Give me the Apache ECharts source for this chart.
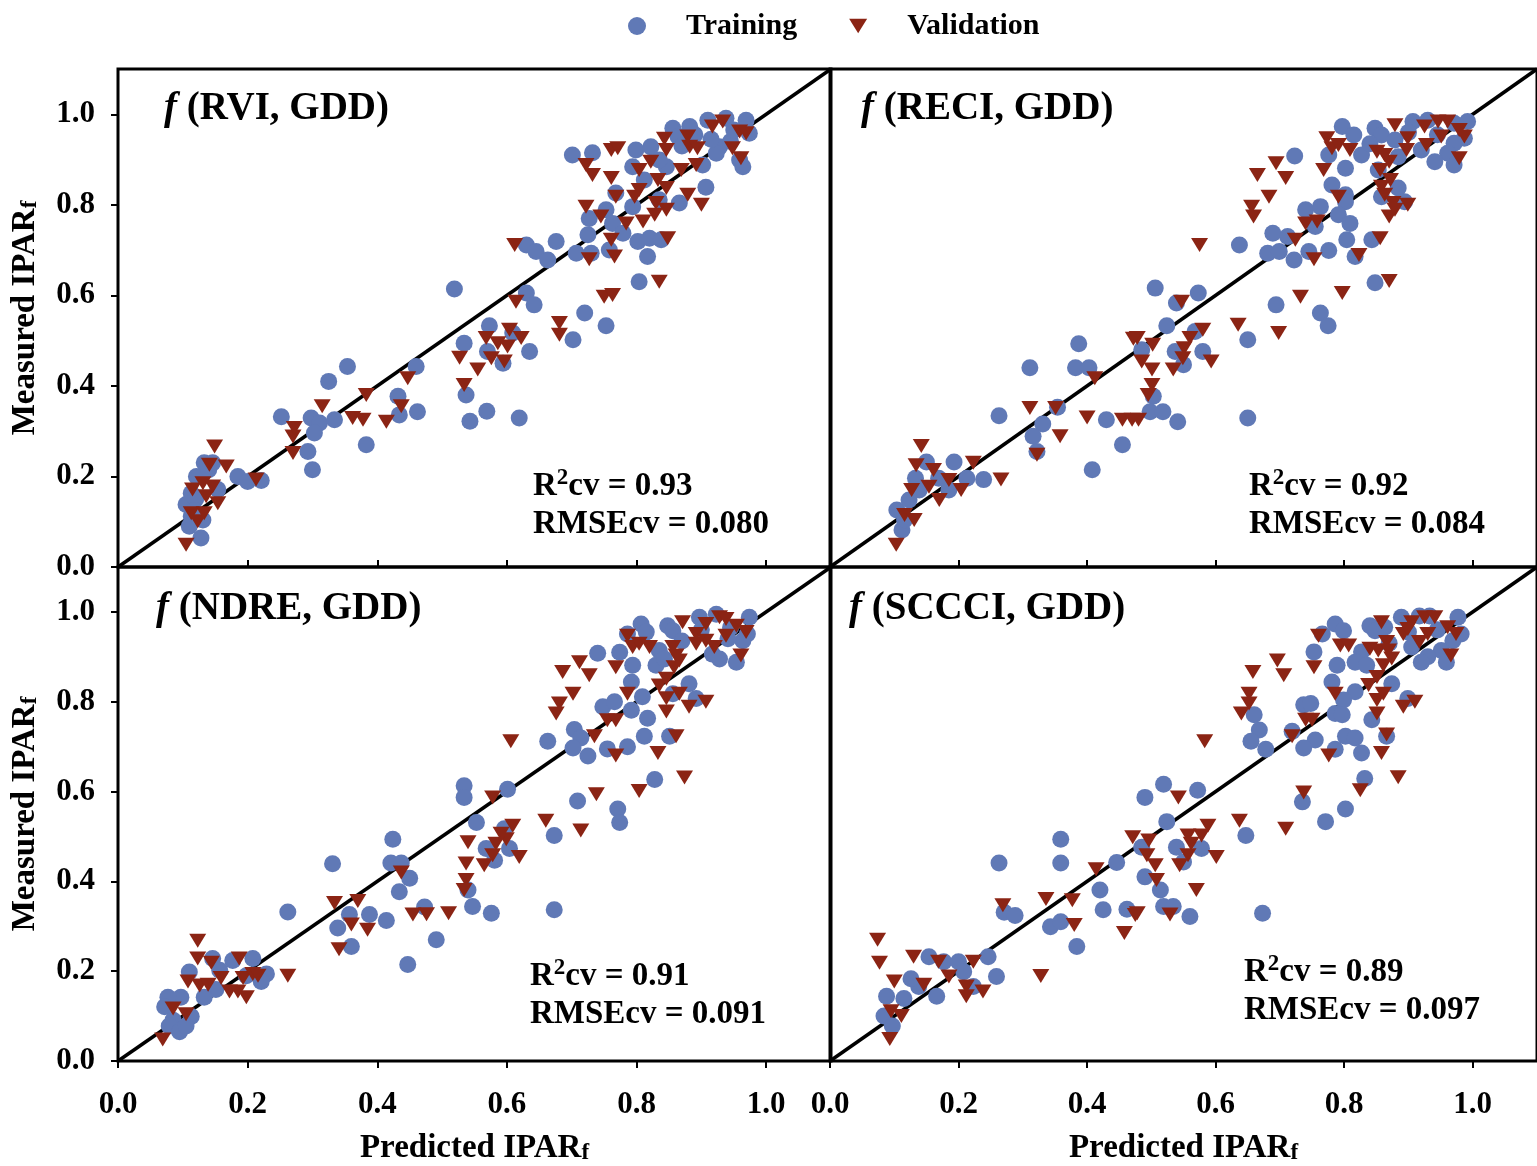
<!DOCTYPE html>
<html>
<head>
<meta charset="utf-8">
<script src="https://cdn.jsdelivr.net/npm/echarts@6/dist/echarts.min.js"></script>
<style>
html, body { margin: 0; padding: 0; background: #fff; }
#chart { width: 1537px; height: 1166px; }
</style>
</head>
<body>
<div id="chart"></div>
<script>
// ---- data ---------------------------------------------------------------
const indexNames = ['RVI', 'RECI', 'NDRE', 'SCCCI'];
const r2Values = ['0.93', '0.92', '0.91', '0.89'];
const rmseValues = ['0.080', '0.084', '0.091', '0.097'];
const tickValues = [0, 0.2, 0.4, 0.6, 0.8, 1.0];
const axisRange = [0, 1.1];
const oneToOne = [0, 1.1];

// [predicted, measured]
const rviTrain = [
  [0.701,0.910],[0.732,0.915],[0.799,0.921],[0.822,0.928],[0.856,0.969],[0.882,0.973],[0.864,0.951],[0.910,0.987],
  [0.938,0.991],[0.969,0.987],[0.974,0.958],[0.928,0.928],[0.923,0.914],[0.959,0.899],[0.964,0.884],[0.902,0.888],
  [0.846,0.884],[0.794,0.884],[0.835,0.899],[0.812,0.855],[0.907,0.839],[0.768,0.826],[0.794,0.796],[0.835,0.811],
  [0.866,0.804],[0.753,0.789],[0.727,0.770],[0.763,0.759],[0.779,0.737],[0.725,0.734],[0.802,0.719],[0.820,0.726],
  [0.838,0.723],[0.758,0.700],[0.676,0.719],[0.630,0.711],[0.645,0.697],[0.663,0.678],[0.707,0.693],[0.730,0.693],
  [0.817,0.686],[0.804,0.630],[0.630,0.605],[0.642,0.579],[0.720,0.561],[0.753,0.533],[0.702,0.502],[0.573,0.533],
  [0.534,0.494],[0.519,0.614],[0.609,0.517],[0.570,0.476],[0.594,0.450],[0.635,0.476],[0.537,0.380],[0.543,0.322],
  [0.569,0.344],[0.619,0.329],[0.890,0.955],[0.945,0.940],[0.950,0.965],[0.870,0.930],[0.915,0.945],
  [0.354,0.443],[0.325,0.410],[0.252,0.332],[0.298,0.329],[0.311,0.318],[0.334,0.325],[0.303,0.296],[0.293,0.255],
  [0.300,0.215],[0.383,0.270],[0.432,0.377],[0.434,0.336],[0.460,0.443],[0.462,0.343],[0.185,0.200],[0.200,0.189],
  [0.221,0.191],[0.133,0.230],[0.146,0.230],[0.121,0.200],[0.113,0.163],[0.105,0.138],[0.113,0.112],[0.131,0.104],
  [0.110,0.090],[0.128,0.064],[0.154,0.171],[0.140,0.215],[0.120,0.150],[0.118,0.125]
];
const rviValid = [
  [0.761,0.921],[0.771,0.925],[0.722,0.888],[0.732,0.866],[0.761,0.859],[0.843,0.946],[0.879,0.951],[0.882,0.928],
  [0.894,0.925],[0.917,0.973],[0.933,0.984],[0.959,0.962],[0.969,0.958],[0.948,0.925],[0.961,0.903],[0.846,0.921],
  [0.822,0.895],[0.804,0.877],[0.869,0.877],[0.892,0.888],[0.833,0.855],[0.846,0.837],[0.804,0.833],[0.797,0.818],
  [0.768,0.818],[0.879,0.822],[0.900,0.800],[0.830,0.804],[0.846,0.789],[0.828,0.778],[0.722,0.796],[0.745,0.774],
  [0.784,0.759],[0.810,0.763],[0.761,0.723],[0.848,0.726],[0.727,0.680],[0.766,0.686],[0.612,0.711],[0.835,0.630],
  [0.750,0.597],[0.763,0.601],[0.614,0.586],[0.681,0.539],[0.681,0.513],[0.604,0.524],[0.568,0.506],[0.586,0.494],
  [0.601,0.487],[0.622,0.506],[0.576,0.461],[0.596,0.454],[0.555,0.436],[0.534,0.402],[0.527,0.462],
  [0.149,0.266],[0.141,0.226],[0.167,0.222],[0.115,0.171],[0.131,0.185],[0.146,0.178],[0.154,0.141],[0.136,0.156],
  [0.113,0.119],[0.133,0.119],[0.123,0.101],[0.105,0.049],[0.213,0.193],[0.270,0.288],[0.270,0.252],[0.272,0.307],
  [0.315,0.355],[0.362,0.329],[0.378,0.325],[0.383,0.380],[0.414,0.321],[0.437,0.355],[0.447,0.417]
];

const reciTrain = [
  [0.723,0.908],[0.797,0.973],[0.815,0.954],[0.848,0.969],[0.858,0.954],[0.907,0.984],[0.930,0.987],[0.971,0.980],
  [0.992,0.984],[0.987,0.947],[0.971,0.936],[0.961,0.914],[0.941,0.895],[0.971,0.888],[0.920,0.921],[0.879,0.943],
  [0.884,0.906],[0.827,0.910],[0.776,0.910],[0.802,0.881],[0.853,0.877],[0.781,0.844],[0.802,0.822],[0.884,0.837],
  [0.858,0.818],[0.894,0.807],[0.740,0.789],[0.763,0.796],[0.802,0.807],[0.791,0.778],[0.809,0.759],[0.755,0.752],
  [0.689,0.737],[0.712,0.730],[0.804,0.723],[0.843,0.723],[0.637,0.711],[0.681,0.693],[0.699,0.697],[0.745,0.697],
  [0.776,0.699],[0.722,0.678],[0.817,0.686],[0.848,0.628],[0.506,0.616],[0.573,0.605],[0.539,0.583],[0.694,0.579],
  [0.763,0.561],[0.775,0.533],[0.524,0.533],[0.568,0.520],[0.650,0.502],[0.485,0.480],[0.537,0.476],[0.580,0.476],
  [0.550,0.447],[0.503,0.377],[0.498,0.343],[0.518,0.343],[0.541,0.321],[0.650,0.329],[0.900,0.960],[0.945,0.955],
  [0.840,0.935],
  [0.311,0.440],[0.387,0.493],[0.382,0.440],[0.403,0.440],[0.263,0.334],[0.331,0.316],[0.322,0.255],[0.408,0.215],
  [0.430,0.325],[0.455,0.270],[0.354,0.353],[0.316,0.289],
  [0.104,0.126],[0.112,0.082],[0.123,0.148],[0.133,0.196],[0.150,0.232],[0.169,0.196],[0.193,0.232],[0.213,0.196],
  [0.239,0.193],[0.116,0.104],[0.139,0.170],[0.185,0.170]
];
const reciValid = [
  [0.694,0.892],[0.665,0.866],[0.709,0.859],[0.768,0.877],[0.773,0.947],[0.781,0.925],[0.791,0.932],[0.809,0.921],
  [0.879,0.976],[0.925,0.973],[0.946,0.984],[0.961,0.984],[0.979,0.965],[0.987,0.951],[0.951,0.951],[0.928,0.932],
  [0.899,0.947],[0.897,0.921],[0.851,0.917],[0.863,0.910],[0.870,0.895],[0.856,0.877],[0.979,0.903],[0.872,0.855],
  [0.858,0.840],[0.863,0.822],[0.876,0.804],[0.879,0.789],[0.870,0.774],[0.899,0.800],[0.791,0.818],[0.683,0.818],
  [0.656,0.796],[0.659,0.774],[0.740,0.759],[0.758,0.763],[0.724,0.723],[0.856,0.726],[0.575,0.711],[0.753,0.680],
  [0.823,0.689],[0.870,0.632],[0.797,0.605],[0.732,0.597],[0.547,0.586],[0.635,0.535],[0.698,0.517],[0.478,0.506],
  [0.502,0.491],[0.560,0.506],[0.580,0.524],[0.551,0.483],[0.549,0.461],[0.593,0.454],[0.485,0.454],[0.501,0.436],
  [0.534,0.436],[0.501,0.402],[0.495,0.380],[0.480,0.325],
  [0.311,0.351],[0.351,0.351],[0.322,0.248],[0.358,0.289],[0.412,0.417],[0.472,0.504],[0.455,0.325],[0.470,0.325],
  [0.266,0.193],[0.400,0.330],
  [0.142,0.267],[0.134,0.225],[0.161,0.214],[0.127,0.170],[0.154,0.177],[0.185,0.192],[0.204,0.170],[0.116,0.115],
  [0.131,0.104],[0.103,0.049],[0.223,0.230],[0.170,0.148]
];

const ndreTrain = [
  [0.807,0.973],[0.786,0.951],[0.815,0.955],[0.848,0.969],[0.856,0.958],[0.897,0.988],[0.923,0.995],[0.974,0.988],
  [0.971,0.951],[0.964,0.936],[0.941,0.940],[0.917,0.906],[0.928,0.895],[0.954,0.888],[0.740,0.908],[0.774,0.910],
  [0.794,0.881],[0.835,0.914],[0.830,0.881],[0.843,0.895],[0.881,0.840],[0.892,0.807],[0.792,0.844],[0.809,0.811],
  [0.748,0.789],[0.766,0.800],[0.792,0.781],[0.817,0.763],[0.856,0.818],[0.704,0.738],[0.714,0.719],[0.663,0.712],
  [0.702,0.697],[0.725,0.679],[0.755,0.695],[0.786,0.700],[0.812,0.723],[0.851,0.723],[0.828,0.627],[0.601,0.605],
  [0.534,0.613],[0.534,0.587],[0.709,0.579],[0.771,0.561],[0.774,0.531],[0.553,0.531],[0.673,0.502],[0.596,0.517],
  [0.568,0.473],[0.604,0.473],[0.581,0.447],[0.540,0.381],[0.547,0.344],[0.576,0.329],[0.673,0.337],[0.900,0.960],
  [0.945,0.965],[0.870,0.935],
  [0.424,0.494],[0.421,0.441],[0.437,0.441],[0.450,0.407],[0.434,0.377],[0.414,0.313],[0.447,0.215],[0.331,0.439],
  [0.262,0.332],[0.357,0.326],[0.388,0.326],[0.339,0.296],[0.360,0.255],[0.473,0.343],[0.491,0.270],
  [0.146,0.228],[0.110,0.198],[0.177,0.224],[0.208,0.228],[0.229,0.194],[0.221,0.177],[0.198,0.190],[0.157,0.202],
  [0.151,0.159],[0.133,0.142],[0.097,0.142],[0.077,0.142],[0.072,0.121],[0.085,0.091],[0.079,0.078],[0.095,0.065],
  [0.113,0.099],[0.105,0.078]
];
const ndreValid = [
  [0.786,0.947],[0.794,0.922],[0.804,0.929],[0.820,0.922],[0.871,0.977],[0.892,0.951],[0.907,0.973],[0.928,0.988],
  [0.938,0.984],[0.954,0.969],[0.969,0.955],[0.938,0.947],[0.907,0.936],[0.892,0.929],[0.920,0.922],[0.856,0.922],
  [0.861,0.903],[0.866,0.892],[0.858,0.877],[0.961,0.903],[0.712,0.888],[0.686,0.866],[0.727,0.859],[0.768,0.877],
  [0.846,0.851],[0.835,0.836],[0.866,0.818],[0.846,0.808],[0.881,0.789],[0.907,0.800],[0.846,0.778],[0.786,0.818],
  [0.702,0.818],[0.681,0.796],[0.676,0.774],[0.755,0.759],[0.768,0.759],[0.735,0.723],[0.861,0.723],[0.606,0.712],
  [0.768,0.680],[0.833,0.686],[0.874,0.631],[0.738,0.594],[0.804,0.601],[0.578,0.587],[0.660,0.535],[0.714,0.513],
  [0.609,0.524],[0.591,0.506],[0.599,0.494],[0.583,0.484],[0.540,0.487],[0.578,0.458],[0.619,0.454],[0.537,0.440],
  [0.565,0.436],[0.537,0.403],[0.534,0.381],
  [0.123,0.268],[0.123,0.228],[0.144,0.219],[0.187,0.228],[0.108,0.177],[0.126,0.168],[0.139,0.170],[0.159,0.185],
  [0.172,0.155],[0.185,0.155],[0.198,0.142],[0.193,0.185],[0.208,0.194],[0.216,0.190],[0.262,0.190],[0.085,0.117],
  [0.105,0.104],[0.069,0.048],[0.334,0.352],[0.370,0.356],[0.360,0.304],[0.385,0.292],[0.341,0.249],[0.437,0.420],
  [0.455,0.326],[0.476,0.327],[0.510,0.329]
];

const scTrain = [
  [0.753,0.911],[0.786,0.973],[0.799,0.958],[0.766,0.951],[0.840,0.969],[0.848,0.958],[0.863,0.966],[0.889,0.988],
  [0.917,0.991],[0.933,0.991],[0.977,0.988],[0.982,0.951],[0.969,0.936],[0.951,0.914],[0.930,0.900],[0.959,0.888],
  [0.920,0.888],[0.905,0.922],[0.827,0.911],[0.817,0.888],[0.835,0.881],[0.789,0.881],[0.874,0.840],[0.899,0.807],
  [0.781,0.844],[0.817,0.822],[0.799,0.804],[0.737,0.793],[0.748,0.796],[0.786,0.774],[0.797,0.771],[0.843,0.760],
  [0.660,0.771],[0.668,0.737],[0.655,0.712],[0.678,0.694],[0.719,0.734],[0.755,0.715],[0.737,0.697],[0.802,0.723],
  [0.817,0.719],[0.786,0.694],[0.827,0.686],[0.866,0.723],[0.832,0.629],[0.519,0.616],[0.490,0.587],[0.572,0.603],
  [0.735,0.577],[0.802,0.561],[0.771,0.533],[0.524,0.533],[0.647,0.502],[0.539,0.476],[0.578,0.473],[0.485,0.476],
  [0.550,0.443],[0.490,0.410],[0.514,0.381],[0.519,0.344],[0.534,0.344],[0.560,0.322],[0.673,0.329],[0.900,0.955],
  [0.945,0.960],[0.870,0.930],
  [0.263,0.441],[0.359,0.494],[0.359,0.441],[0.271,0.331],[0.288,0.324],[0.343,0.299],[0.359,0.310],[0.384,0.255],
  [0.420,0.381],[0.425,0.337],[0.446,0.442],[0.462,0.338],
  [0.084,0.100],[0.097,0.078],[0.088,0.144],[0.115,0.139],[0.138,0.166],[0.154,0.232],[0.177,0.221],[0.200,0.221],
  [0.208,0.199],[0.223,0.166],[0.246,0.232],[0.259,0.188],[0.166,0.144],[0.126,0.183]
];
const scValid = [
  [0.760,0.947],[0.794,0.925],[0.807,0.925],[0.753,0.877],[0.696,0.892],[0.658,0.866],[0.706,0.859],[0.858,0.977],
  [0.905,0.977],[0.925,0.988],[0.941,0.988],[0.961,0.966],[0.974,0.951],[0.930,0.951],[0.917,0.933],[0.892,0.951],
  [0.899,0.962],[0.866,0.933],[0.840,0.918],[0.853,0.914],[0.869,0.914],[0.874,0.896],[0.861,0.881],[0.966,0.903],
  [0.851,0.855],[0.838,0.837],[0.861,0.818],[0.851,0.804],[0.851,0.774],[0.892,0.789],[0.910,0.800],[0.786,0.818],
  [0.652,0.818],[0.652,0.796],[0.640,0.774],[0.740,0.760],[0.750,0.760],[0.719,0.723],[0.866,0.727],[0.583,0.712],
  [0.776,0.680],[0.858,0.686],[0.884,0.632],[0.825,0.603],[0.737,0.598],[0.542,0.587],[0.637,0.535],[0.709,0.517],
  [0.496,0.491],[0.588,0.524],[0.557,0.502],[0.578,0.502],[0.562,0.484],[0.557,0.458],[0.601,0.454],[0.493,0.458],
  [0.506,0.436],[0.544,0.436],[0.508,0.403],[0.570,0.381],[0.529,0.326],[0.478,0.329],
  [0.269,0.347],[0.336,0.361],[0.377,0.358],[0.380,0.303],[0.414,0.427],[0.458,0.285],[0.475,0.325],[0.471,0.498],
  [0.328,0.189],
  [0.074,0.270],[0.077,0.219],[0.130,0.232],[0.169,0.221],[0.223,0.221],[0.100,0.177],[0.146,0.170],[0.185,0.188],
  [0.212,0.166],[0.238,0.155],[0.095,0.111],[0.111,0.100],[0.093,0.049],[0.212,0.144]
];

// ---- chart --------------------------------------------------------------
const FONT = '"Liberation Serif", "Times New Roman", serif';
const BLUE = '#6079B6';
const RED = '#8B2414';
const TRIANGLE_DOWN = 'path://M0,0L20,0L10,16Z';

const trainSets = [rviTrain, reciTrain, ndreTrain, scTrain];
const validSets = [rviValid, reciValid, ndreValid, scValid];

// 2 x 2 panel layout with title and statistics positions
const layout = [
  { left: 118, top: 69,  tl: 164, tt: 89,  sl: 533, st: 467 },
  { left: 830, top: 69,  tl: 861, tt: 89,  sl: 1249, st: 467 },
  { left: 118, top: 567, tl: 156, tt: 589, sl: 530, st: 957 },
  { left: 830, top: 567, tl: 849, tt: 589, sl: 1244, st: 953 }
];
const PANEL_W = 713, PANEL_H = 498;

const fmt = v => (v > 1.05 ? '' : v.toFixed(1));
const bold = (size) => ({ fontFamily: FONT, fontWeight: 'bold', fontSize: size, color: '#000' });

const grids = [], xAxes = [], yAxes = [], series = [], titles = [];

layout.forEach((p, i) => {
  const isBottom = i >= 2;
  const isLeft = i % 2 === 0;
  grids.push({
    left: p.left, top: p.top, width: PANEL_W, height: PANEL_H,
    show: true, borderColor: '#000', borderWidth: 3, backgroundColor: 'transparent'
  });
  xAxes.push({
    gridIndex: i, type: 'value', min: axisRange[0], max: axisRange[1], interval: 0.2,
    splitLine: { show: false },
    axisLine: { show: false },
    axisTick: {
      show: true, inside: !isBottom, length: 7, customValues: tickValues,
      lineStyle: { color: '#000', width: 2 }
    },
    axisLabel: {
      show: isBottom, margin: 28, customValues: tickValues, formatter: fmt,
      ...bold(31)
    },
    name: isBottom ? '{m|Predicted IPAR}{s|f}' : '',
    nameLocation: 'middle', nameGap: 70,
    nameTextStyle: {
      rich: {
        m: { ...bold(33), lineHeight: 34 },
        s: { ...bold(23), lineHeight: 20, verticalAlign: 'bottom' }
      }
    }
  });
  yAxes.push({
    gridIndex: i, type: 'value', min: axisRange[0], max: axisRange[1], interval: 0.2,
    splitLine: { show: false },
    axisLine: { show: false },
    axisTick: {
      show: isLeft, length: 7, customValues: tickValues,
      lineStyle: { color: '#000', width: 2 }
    },
    axisLabel: {
      show: isLeft, margin: 23, customValues: tickValues, formatter: fmt,
      ...bold(31)
    },
    name: isLeft ? '{m|Measured IPAR}{s|f}' : '',
    nameLocation: 'middle', nameGap: 76,
    nameTextStyle: {
      rich: {
        m: { ...bold(33), lineHeight: 34 },
        s: { ...bold(23), lineHeight: 20, verticalAlign: 'bottom' }
      }
    }
  });

  // 1:1 reference line
  series.push({
    type: 'line', xAxisIndex: i, yAxisIndex: i, silent: true, z: 1,
    data: oneToOne.map(v => [v, v]), symbol: 'none',
    lineStyle: { color: '#000', width: 3.5 }
  });
  series.push({
    name: 'Training', type: 'scatter', xAxisIndex: i, yAxisIndex: i, z: 3,
    data: trainSets[i], symbol: 'circle', symbolSize: 17,
    itemStyle: { color: BLUE, opacity: 1 }
  });
  series.push({
    name: 'Validation', type: 'scatter', xAxisIndex: i, yAxisIndex: i, z: 4,
    data: validSets[i], symbol: TRIANGLE_DOWN, symbolSize: [17, 14],
    itemStyle: { color: RED, opacity: 1 }
  });

  titles.push({
    text: '{i|f}{n| (' + indexNames[i] + ', GDD)}',
    left: p.tl, top: p.tt, padding: 0,
    textStyle: {
      rich: {
        i: { ...bold(39), fontStyle: 'italic' },
        n: { ...bold(39) }
      }
    }
  });
  titles.push({
    text: '{a|R}{sup|2}{a|cv = ' + r2Values[i] + '}\n{a|RMSEcv = ' + rmseValues[i] + '}',
    left: p.sl, top: p.st, padding: 0,
    textStyle: {
      rich: {
        a: { ...bold(33), lineHeight: 38 },
        sup: { ...bold(23), lineHeight: 24, verticalAlign: 'top' }
      }
    }
  });
});

const option = {
  backgroundColor: '#fff',
  animation: false,
  title: titles,
  legend: {
    left: 623, top: 6,
    itemWidth: 18, itemHeight: 18, itemGap: 52,
    data: [
      { name: 'Training', icon: 'circle' },
      { name: 'Validation', icon: TRIANGLE_DOWN }
    ],
    textStyle: { ...bold(30), padding: [0, 0, 0, 35] }
  },
  grid: grids,
  xAxis: xAxes,
  yAxis: yAxes,
  series: series
};

const chart = echarts.init(document.getElementById('chart'));
chart.setOption(option);
</script>
</body>
</html>
